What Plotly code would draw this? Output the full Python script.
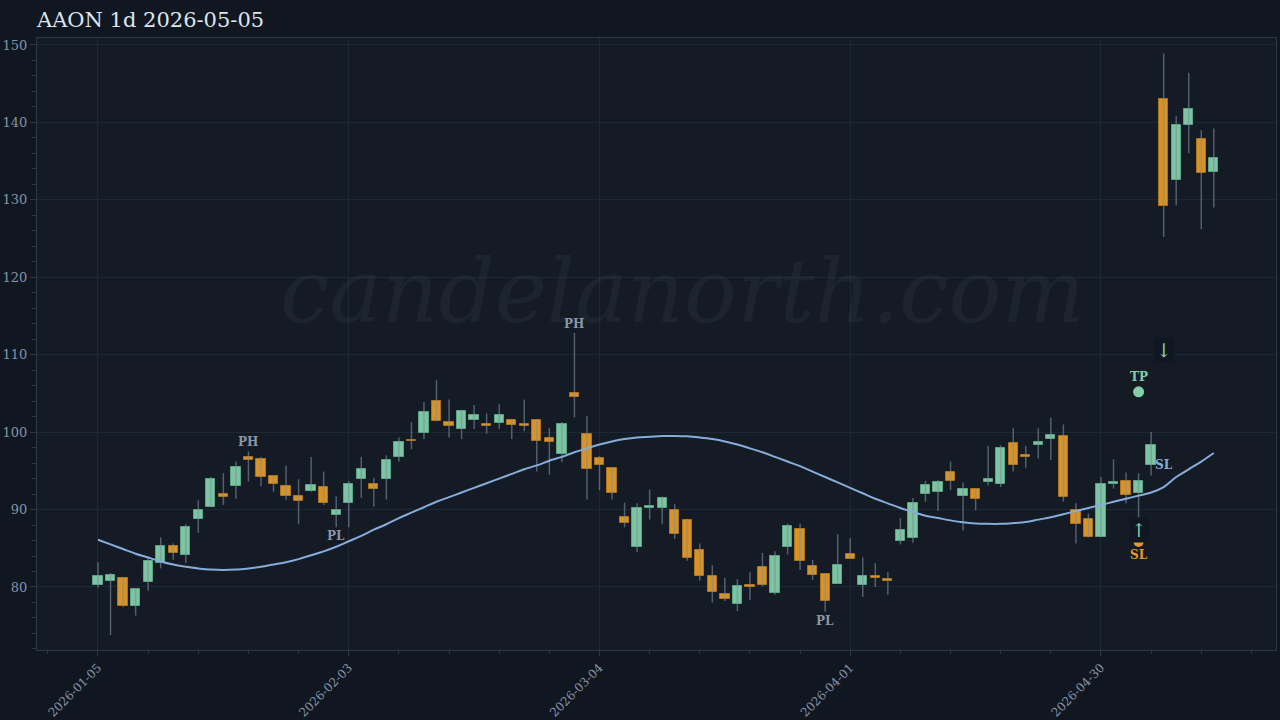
import plotly.graph_objects as go

# ---------------- data ----------------
tick_index = [0, 20, 40, 60, 80]
tick_dates = ["2026-01-05", "2026-02-03", "2026-03-04", "2026-04-01", "2026-04-30"]

opens = [80.2, 80.8, 81.2, 77.5, 80.6, 83.1, 85.3, 84.1, 88.8, 90.3,
         92.0, 93.1, 96.8, 96.5, 94.3, 93.1, 91.8, 92.4, 92.9, 89.3,
         90.9, 93.9, 93.3, 94.0, 96.8, 99.0, 99.9, 104.0, 101.3, 100.4,
         101.6, 101.1, 101.2, 101.6, 101.0, 101.6, 99.2, 97.2, 105.1, 99.8,
         96.7, 95.4, 89.1, 85.1, 90.2, 90.2, 90.0, 88.7, 84.8, 81.4,
         79.1, 77.8, 80.3, 82.6, 79.2, 85.2, 87.5, 82.7, 81.7, 80.4,
         84.3, 80.3, 81.4, 81.0, 85.9, 86.3, 92.0, 92.3, 94.9, 91.8,
         92.7, 93.6, 93.3, 98.6, 97.0, 98.3, 99.1, 99.5, 90.0, 88.8,
         86.5, 93.3, 93.7, 92.2, 95.8, 143.0, 132.5, 139.6, 137.9, 133.6]
highs = [83.2, 81.8, 81.3, 79.8, 83.8, 86.4, 85.6, 88.1, 91.2, 94.2,
         94.7, 96.2, 97.5, 96.8, 94.4, 95.7, 93.9, 96.8, 94.9, 91.7,
         93.7, 96.8, 94.1, 97.0, 99.3, 101.3, 103.9, 106.7, 104.2, 102.9,
         103.5, 102.4, 103.6, 101.7, 104.2, 101.7, 100.5, 101.3, 112.8, 102.1,
         96.9, 95.4, 90.9, 90.8, 92.6, 91.7, 90.7, 88.8, 85.6, 82.8,
         81.2, 81.0, 81.9, 84.4, 84.6, 88.2, 88.2, 83.5, 81.7, 86.8,
         86.3, 83.8, 83.1, 81.9, 88.9, 91.5, 93.7, 93.8, 96.2, 93.5,
         92.8, 98.2, 98.3, 100.5, 98.2, 100.5, 101.9, 101.0, 90.8, 89.5,
         94.2, 96.5, 94.8, 94.7, 100.0, 148.9, 140.8, 146.4, 139.0, 139.2]
lows = [79.9, 73.8, 77.4, 76.3, 79.5, 82.4, 83.5, 83.1, 87.0, 90.3,
        90.6, 91.4, 93.6, 93.0, 92.3, 91.2, 88.1, 92.3, 90.6, 87.7,
        87.7, 91.5, 90.4, 91.3, 96.2, 97.8, 99.1, 101.4, 99.3, 99.1,
        100.4, 99.8, 100.4, 99.1, 100.1, 94.9, 94.5, 96.1, 101.9, 91.3,
        92.5, 91.3, 87.7, 84.5, 88.7, 88.1, 86.2, 83.4, 80.8, 78.0,
        78.2, 76.9, 78.3, 80.1, 79.0, 84.2, 82.2, 80.9, 76.8, 80.4,
        83.6, 78.7, 80.0, 79.0, 85.5, 85.7, 91.0, 89.8, 92.5, 87.3,
        89.9, 93.1, 92.9, 94.9, 95.4, 96.6, 96.4, 91.0, 85.6, 86.4,
        86.5, 92.7, 90.8, 88.9, 94.4, 125.2, 129.3, 136.0, 126.2, 129.0]
closes = [81.4, 81.6, 77.5, 79.7, 83.3, 85.3, 84.4, 87.7, 90.0, 94.0,
          91.6, 95.5, 96.4, 94.2, 93.3, 91.7, 91.1, 93.2, 90.9, 90.0,
          93.3, 95.2, 92.7, 96.4, 98.7, 98.8, 102.6, 101.4, 100.8, 102.7,
          102.2, 100.8, 102.2, 100.9, 100.8, 98.9, 98.7, 101.1, 104.5, 95.2,
          95.8, 92.2, 88.2, 90.2, 90.5, 91.5, 86.9, 83.7, 81.4, 79.4,
          78.5, 80.1, 80.0, 80.2, 84.0, 87.9, 83.4, 81.5, 78.2, 82.8,
          83.6, 81.4, 81.2, 80.8, 87.4, 90.8, 93.2, 93.6, 93.7, 92.6,
          91.4, 94.0, 98.0, 95.7, 96.8, 98.7, 99.6, 91.6, 88.1, 86.4,
          93.3, 93.6, 91.9, 93.7, 98.3, 129.2, 139.7, 141.7, 133.5, 135.4]
ma_line = [86.1, 85.5, 84.9, 84.3, 83.8, 83.3, 82.9, 82.6, 82.4, 82.25,
           82.2, 82.25, 82.4, 82.6, 82.9, 83.2, 83.6, 84.1, 84.6, 85.2,
           85.9, 86.6, 87.4, 88.1, 88.9, 89.6, 90.3, 91.0, 91.6, 92.2,
           92.8, 93.4, 94.0, 94.6, 95.2, 95.7, 96.3, 96.8, 97.4, 97.9,
           98.4, 98.8, 99.1, 99.3, 99.4, 99.5, 99.5, 99.45, 99.3, 99.1,
           98.8, 98.4, 97.9, 97.4, 96.8, 96.2, 95.6, 94.9, 94.2, 93.5,
           92.8, 92.1, 91.4, 90.8, 90.2, 89.7, 89.2, 88.9, 88.6, 88.35,
           88.2, 88.15, 88.15, 88.25, 88.4, 88.7, 89.0, 89.4, 89.8, 90.2,
           90.6, 91.0, 91.4, 91.8, 92.2, 92.9, 94.2, 95.2, 96.2, 97.3]

pivot_labels = ["PH", "PL", "PH", "PL"]
pivot_index = [12, 19, 38, 58]
trade_index = 83
tp_price = 105.2
sl_price = 85.8
signal_index = 85
signal_price = 110.6
sl2_price = 95.8

# ---------------- style ----------------
PAPER = "#111721"
PLOT = "#141b25"
GRID = "#1d2833"
AXIS = "#2a3848"
TICK = "#8593a6"
UP = "#82cfa8"
UP_LINE = "#5fae88"
DOWN = "#e39a27"
DOWN_LINE = "#b97818"
FONT = "DejaVu Serif"

idx = list(range(len(opens)))

fig = go.Figure()

# wicks
wx, wy = [], []
for i, h, l in zip(idx, highs, lows):
    wx += [i, i, None]
    wy += [l, h, None]
fig.add_trace(go.Scatter(x=wx, y=wy, mode="lines",
                         line=dict(color="rgba(125,140,160,0.6)", width=1.5),
                         hoverinfo="skip", showlegend=False))

# bodies
base = [min(o, c) for o, c in zip(opens, closes)]
height = [abs(c - o) for o, c in zip(opens, closes)]
fill = [UP if c >= o else DOWN for o, c in zip(opens, closes)]
edge = [UP_LINE if c >= o else DOWN_LINE for o, c in zip(opens, closes)]
fig.add_trace(go.Bar(x=idx, y=height, base=base, width=0.74,
                     marker=dict(color=fill, line=dict(color=edge, width=1)),
                     opacity=0.95, showlegend=False))

# moving average
fig.add_trace(go.Scatter(x=idx, y=ma_line, mode="lines",
                         line=dict(color="#86acdb", width=2, shape="spline"),
                         showlegend=False))

# TP / SL markers
fig.add_trace(go.Scatter(x=[trade_index], y=[tp_price], mode="markers",
                         marker=dict(color=UP, size=11), showlegend=False))
fig.add_trace(go.Scatter(x=[trade_index], y=[sl_price], mode="markers",
                         marker=dict(color=DOWN, size=10), showlegend=False))

annotations = []
# watermark
annotations.append(dict(text="candelanorth.com", xref="paper", yref="paper",
                        x=0.521, y=0.585, showarrow=False,
                        font=dict(family=FONT, size=88, color="rgba(140,155,175,0.08)", style="italic")))
for lab, pi in zip(pivot_labels, pivot_index):
    if lab == "PH":
        annotations.append(dict(x=pi, y=highs[pi], text="<b>PH</b>", showarrow=False,
                                yshift=9, font=dict(family=FONT, size=12, color="#8b96a6")))
    else:
        annotations.append(dict(x=pi, y=lows[pi], text="<b>PL</b>", showarrow=False,
                                yshift=-9, font=dict(family=FONT, size=12, color="#8b96a6")))
annotations.append(dict(x=trade_index, y=tp_price, text="<b>TP</b>", showarrow=False, yshift=15,
                        font=dict(family=FONT, size=12, color=UP)))
annotations.append(dict(x=trade_index, y=sl_price, text="<b>SL</b>", showarrow=False, yshift=-13,
                        font=dict(family=FONT, size=12, color=DOWN)))
annotations.append(dict(x=trade_index, y=sl_price, text="↑", showarrow=False, yshift=12,
                        bgcolor=PAPER, font=dict(family=FONT, size=19, color=UP)))
annotations.append(dict(x=signal_index, y=signal_price, text="↓", showarrow=False,
                        bgcolor=PAPER, font=dict(family=FONT, size=19, color=UP)))
annotations.append(dict(x=signal_index, y=sl2_price, text="<b>SL</b>", showarrow=False,
                        font=dict(family=FONT, size=12, color="#86acdb")))

fig.update_layout(
    width=1280, height=720,
    paper_bgcolor=PAPER, plot_bgcolor=PLOT,
    margin=dict(l=37, r=4, t=38, b=70, autoexpand=False),
    title=dict(text="AAON 1d 2026-05-05", x=37 / 1280, xanchor="left",
               y=1 - 20 / 720, yanchor="middle",
               font=dict(family=FONT, size=21, color="#dfe5ec")),
    font=dict(family=FONT, color=TICK),
    annotations=annotations,
    bargap=0,
    hovermode=False,
)
fig.update_xaxes(range=[-4.865, 93.96], tickvals=tick_index, ticktext=tick_dates,
                 tickangle=-45, tickfont=dict(family=FONT, size=12, color=TICK),
                 automargin=False,
                 showgrid=True, gridcolor=GRID, gridwidth=1,
                 showline=True, linecolor=AXIS, linewidth=1, mirror=True,
                 ticks="outside", ticklen=5, tickcolor=AXIS,
                 minor=dict(dtick=4, tick0=0, ticks="outside", ticklen=3, tickcolor=AXIS, showgrid=False),
                 zeroline=False)
fig.update_yaxes(range=[71.86, 150.9], tickvals=[80, 90, 100, 110, 120, 130, 140, 150],
                 tickfont=dict(family=FONT, size=13, color=TICK),
                 automargin=False,
                 showgrid=True, gridcolor=GRID, gridwidth=1,
                 showline=True, linecolor=AXIS, linewidth=1, mirror=True,
                 ticks="outside", ticklen=6, tickcolor=AXIS,
                 minor=dict(dtick=2, tick0=0, ticks="outside", ticklen=4, tickcolor=AXIS, showgrid=False),
                 zeroline=False)

fig.write_html("out.html", config={"displayModeBar": False},
               post_script="document.body.style.margin='0';document.body.style.background='%s';" % PAPER)
